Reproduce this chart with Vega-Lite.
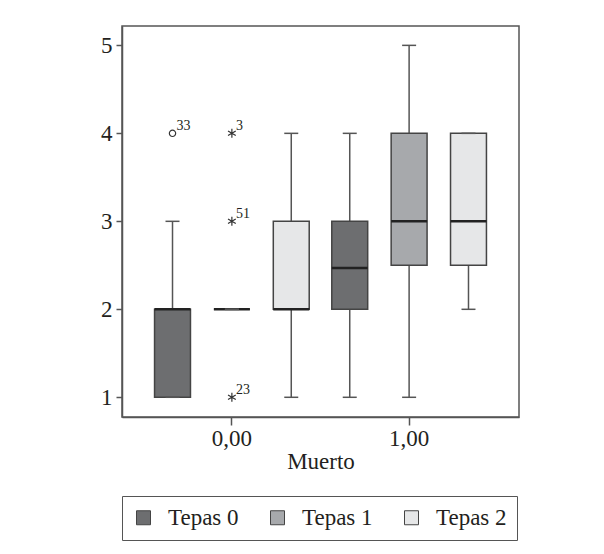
{
  "$schema": "https://vega.github.io/schema/vega-lite/v6.json",
  "width": 397,
  "height": 391,
  "autosize": {"type": "none"},
  "padding": {"left": 122, "top": 26, "right": 85, "bottom": 137},
  "background": "white",
  "config": {
    "font": "Liberation Serif",
    "view": {"stroke": "#555", "strokeWidth": 1.5},
    "axis": {
      "labelFont": "Liberation Serif", "labelFontSize": 23, "labelColor": "#231f20",
      "titleFont": "Liberation Serif", "titleFontSize": 23, "titleFontWeight": "normal", "titleColor": "#231f20",
      "domainColor": "#555", "tickColor": "#555", "grid": false, "domainWidth": 1.5, "tickWidth": 1.5
    },
    "legend": {
      "labelFont": "Liberation Serif", "labelFontSize": 23, "labelColor": "#231f20",
      "strokeColor": "#555", "padding": 10, "columnPadding": 27, "labelOffset": 13, "offset": 23,
      "symbolType": "square", "symbolSize": 196, "symbolStrokeColor": "#444", "symbolStrokeWidth": 1
    }
  },
  "datasets": {
    "boxes": [
      {"Muerto": "0,00", "Tepas": "Tepas 0", "lower": 1, "q1": 1, "median": 2, "q3": 2, "upper": 3},
      {"Muerto": "0,00", "Tepas": "Tepas 1", "lower": 2, "q1": 2, "median": 2, "q3": 2, "upper": 2},
      {"Muerto": "0,00", "Tepas": "Tepas 2", "lower": 1, "q1": 2, "median": 2, "q3": 3, "upper": 4},
      {"Muerto": "1,00", "Tepas": "Tepas 0", "lower": 1, "q1": 2, "median": 2.47, "q3": 3, "upper": 4},
      {"Muerto": "1,00", "Tepas": "Tepas 1", "lower": 1, "q1": 2.5, "median": 3, "q3": 4, "upper": 5},
      {"Muerto": "1,00", "Tepas": "Tepas 2", "lower": 2, "q1": 2.5, "median": 3, "q3": 4, "upper": 4}
    ],
    "outliers": [
      {"Muerto": "0,00", "Tepas": "Tepas 0", "value": 4, "case": "33", "kind": "o"},
      {"Muerto": "0,00", "Tepas": "Tepas 1", "value": 4, "case": "3", "kind": "*"},
      {"Muerto": "0,00", "Tepas": "Tepas 1", "value": 3, "case": "51", "kind": "*"},
      {"Muerto": "0,00", "Tepas": "Tepas 1", "value": 1, "case": "23", "kind": "*"}
    ]
  },
  "encoding": {
    "x": {
      "field": "Muerto", "type": "nominal",
      "scale": {"paddingInner": 0, "paddingOuter": 0.12},
      "axis": {"labelAngle": 0, "tickSize": 8, "labelPadding": 2, "title": "Muerto", "titlePadding": 0}
    },
    "xOffset": {"field": "Tepas", "type": "nominal", "scale": {"domain": ["Tepas 0", "Tepas 1", "Tepas 2"], "paddingInner": 0.395, "paddingOuter": 0.19}}
  },
  "layer": [
    {
      "data": {"name": "boxes"},
      "mark": {"type": "rule", "color": "#555", "strokeWidth": 1.5},
      "encoding": {
        "y": {"field": "lower", "type": "quantitative", "scale": {"domain": [0.776, 5.22], "nice": false, "zero": false}, "axis": {"values": [1, 2, 3, 4, 5], "format": "d", "tickSize": 6, "labelPadding": 4, "title": null}},
        "y2": {"field": "upper"}
      }
    },
    {
      "data": {"name": "boxes"},
      "mark": {"type": "bar", "stroke": "#444", "strokeWidth": 1.5},
      "encoding": {
        "y": {"field": "q1", "type": "quantitative"},
        "y2": {"field": "q3"},
        "color": {
          "field": "Tepas", "type": "nominal",
          "scale": {"domain": ["Tepas 0", "Tepas 1", "Tepas 2"], "range": ["#6d6e70", "#a7a9ac", "#e6e7e8"]},
          "legend": {"title": null, "orient": "bottom", "direction": "horizontal"}
        }
      }
    },
    {
      "data": {"name": "boxes"},
      "mark": {"type": "tick", "orient": "horizontal", "size": 36, "thickness": 2.5, "color": "#222", "opacity": 1},
      "encoding": {"y": {"field": "median", "type": "quantitative"}}
    },
    {
      "data": {"name": "boxes"},
      "mark": {"type": "tick", "orient": "horizontal", "size": 14, "thickness": 1.5, "color": "#555", "opacity": 1},
      "encoding": {"y": {"field": "lower", "type": "quantitative"}}
    },
    {
      "data": {"name": "boxes"},
      "mark": {"type": "tick", "orient": "horizontal", "size": 14, "thickness": 1.5, "color": "#555", "opacity": 1},
      "encoding": {"y": {"field": "upper", "type": "quantitative"}}
    },
    {
      "data": {"name": "outliers"},
      "mark": {"type": "point", "filled": false, "strokeWidth": 1.2, "color": "#333", "opacity": 1},
      "encoding": {
        "y": {"field": "value", "type": "quantitative"},
        "shape": {"field": "kind", "type": "nominal", "scale": {"domain": ["o", "*"], "range": ["circle", "M0,-1L0,1M-0.866,-0.5L0.866,0.5M-0.866,0.5L0.866,-0.5"]}, "legend": null},
        "size": {"field": "kind", "type": "nominal", "scale": {"domain": ["o", "*"], "range": [40, 80]}, "legend": null}
      }
    },
    {
      "data": {"name": "outliers"},
      "mark": {"type": "text", "align": "left", "baseline": "middle", "dx": 4, "dy": -7, "fontSize": 14, "color": "#231f20", "font": "Liberation Serif"},
      "encoding": {
        "y": {"field": "value", "type": "quantitative"},
        "text": {"field": "case"}
      }
    }
  ]
}
